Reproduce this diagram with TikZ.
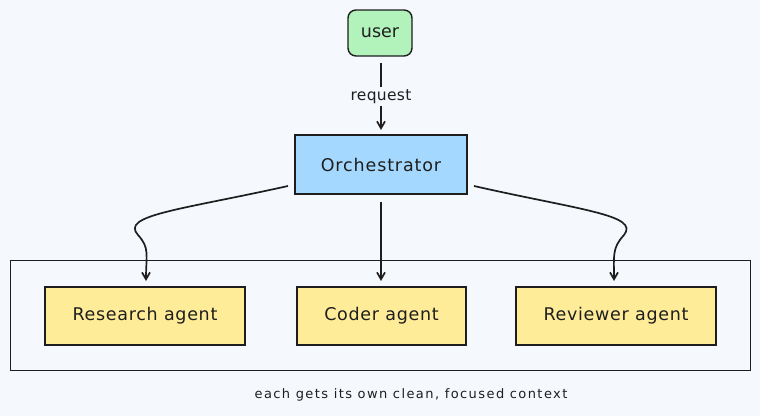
\documentclass[tikz,border=0pt]{standalone}
\usepackage{fontspec}
\setmainfont{DejaVu Sans}
\usetikzlibrary{arrows.meta}
\definecolor{bgc}{HTML}{F5F9FD}
\definecolor{greenf}{HTML}{B2F2BB}
\definecolor{bluef}{HTML}{A5D8FF}
\definecolor{yellowf}{HTML}{FFEC99}
\definecolor{ink}{HTML}{1E1E1E}
\begin{document}
\begin{tikzpicture}[x=1pt,y=-1pt,
  box/.style={draw=ink,line width=1.4pt,inner sep=0pt,font=\fontsize{17.5}{19}\selectfont,text=ink},
  conn/.style={draw=ink,line width=1.7pt,-{Straight Barb[length=7pt,width=8pt]}}]
\fill[bgc] (0,0) rectangle (760,416);
\useasboundingbox (0,0) rectangle (760,416);
\node[box,fill=greenf,rounded corners=8pt,minimum width=64pt,minimum height=46pt] (user) at (380,33) {user};
\node[box,fill=bluef,minimum width=172pt,minimum height=59pt] (orch) at (381,164.5) {\addfontfeatures{LetterSpace=5}Orchestrator};
\node[draw=ink,line width=0.9pt,minimum width=740pt,minimum height=110pt,inner sep=0pt] (cont) at (380,315) {};
\node[box,fill=yellowf,minimum width=200pt,minimum height=58pt] (res) at (145,316) {\addfontfeatures{LetterSpace=4}Research agent};
\node[box,fill=yellowf,minimum width=169pt,minimum height=58pt] (cod) at (381.5,316) {\addfontfeatures{LetterSpace=4}Coder agent};
\node[box,fill=yellowf,minimum width=200pt,minimum height=58pt] (rev) at (616,316) {\addfontfeatures{LetterSpace=4}Reviewer agent};
\coordinate (u1) at (381,63);
\coordinate (u2) at (381,130);
\draw[conn] (u1) -- node[fill=bgc,inner sep=2pt,font=\fontsize{15.5}{17}\selectfont,text=ink] {\addfontfeatures{LetterSpace=2}request} (u2);
\coordinate (l1) at (288,186);
\coordinate (l2) at (146,281);
\draw[conn] (l1) .. controls (180,210) and (120,215) .. (138,235) .. controls (150,248) and (146,255) .. (l2);
\coordinate (m1) at (381,202);
\coordinate (m2) at (381,281);
\draw[conn] (m1) -- (m2);
\coordinate (r1) at (474,186);
\coordinate (r2) at (614,281);
\draw[conn] (r1) .. controls (580,210) and (640,215) .. (624,235) .. controls (612,248) and (614,255) .. (r2);
\node[font=\fontsize{13}{15}\selectfont,text=ink] (cap) at (411,395) {\addfontfeatures{LetterSpace=11}each gets its own clean, focused context};
\end{tikzpicture}
\end{document}
